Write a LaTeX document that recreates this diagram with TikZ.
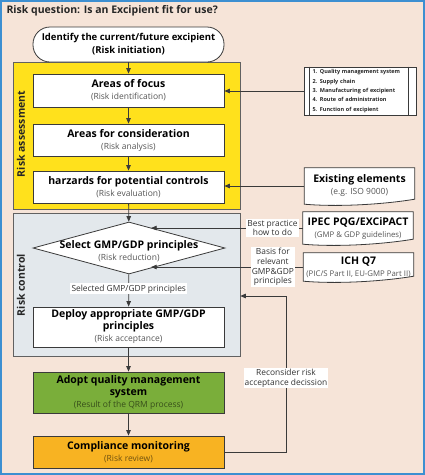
\documentclass[tikz,border=0pt]{standalone}
\usepackage{fontspec}
\setmainfont{Open Sans}
\usetikzlibrary{shapes.geometric,arrows.meta,positioning,calc}

\definecolor{paper}{HTML}{F6E4D8}
\definecolor{frame}{HTML}{3D8FD1}
\definecolor{assessyellow}{HTML}{FFE11C}
\definecolor{controlgray}{HTML}{E3E8EC}
\definecolor{adoptgreen}{HTML}{7AAE3A}
\definecolor{monitororange}{HTML}{F8B322}
\definecolor{linec}{HTML}{3A3A3A}
\definecolor{subgray}{HTML}{555555}

\newcommand{\titlefont}{\fontsize{10.5}{12}\selectfont\bfseries}
\newcommand{\headfont}{\fontsize{10.5}{13}\selectfont\bfseries}
\newcommand{\subfont}{\fontsize{8.5}{12}\selectfont}
\newcommand{\docsubfont}{\fontsize{7.8}{11}\selectfont}
\newcommand{\labfont}{\fontsize{8.4}{9.6}\selectfont}
\newcommand{\listfont}{\fontsize{5.5}{9.4}\selectfont\bfseries}
\newcommand{\sidefont}{\fontsize{10.5}{12}\selectfont\bfseries}

\pgfdeclarelayer{paperlayer}
\pgfdeclarelayer{behind}
\pgfsetlayers{paperlayer,behind,main}

% wavy bottom of a document symbol, drawn under the text
\newcommand{\docwave}[1]{%
  \begin{pgfonlayer}{behind}
    \draw[line, fill=white] (#1.north west) -- (#1.north east) -- ([yshift=5]#1.south east)
      .. controls +(-30,-5) and +(35,-3) .. (#1.south west) -- cycle;
  \end{pgfonlayer}}

\begin{document}
\begin{tikzpicture}[x=1pt, y=1pt,
    line/.style={draw=linec, line width=0.8pt},
    arr/.style={line, -{Triangle[length=5.5pt, width=4.5pt]}},
    stepbox/.style={line, fill=white, minimum width=191, align=center, inner sep=1pt, font=\subfont},
    doc/.style={minimum width=110, align=center, inner sep=1pt, font=\subfont},
    lab/.style={fill=white, inner sep=1.2pt, align=center, font=\labfont, text=black!80},
    side/.style={rotate=90, font=\sidefont, text=black!85}]

  % paper and frame
  \begin{pgfonlayer}{paperlayer}
    \fill[paper] (0,0) rectangle (425,-475);
    \draw[frame, line width=2] (1,-1) rectangle (424,-474);
  \end{pgfonlayer}
  \useasboundingbox (0,0) rectangle (425,-475);

  \node[anchor=west, font=\titlefont, text=black!85] (question) at (3,-11) {Risk question: Is an Excipient fit for use?};

  % the two phases
  \node[draw=linec!80, line width=0.6pt, fill=assessyellow, minimum width=227, minimum height=147] (assess) at (126.5,-135.5) {};
  \node[draw=linec!80, line width=0.6pt, fill=controlgray, minimum width=227, minimum height=143] (control) at (126.5,-284.5) {};
  \node[side] (assesslab) at (21,-134) {Risk assessment};
  \node[side] (controllab) at (21,-285) {Risk control};

  % main flow
  \node[stepbox, rounded corners=17, minimum height=35, font=\fontsize{9.5}{13}\selectfont\bfseries] (init) at (128.5,-44.5)
    {Identify the current/future excipient\\(Risk initiation)};
  \node[stepbox, minimum height=33] (focus) at (128.5,-90.5)
    {{\headfont Areas of focus}\\{\color{subgray}(Risk identification)}};
  \node[stepbox, minimum height=32] (consid) at (128.5,-140)
    {{\headfont Areas for consideration}\\{\color{subgray}(Risk analysis)}};
  \node[stepbox, minimum height=32] (hazard) at (128.5,-187)
    {{\headfont harzards for potential controls}\\{\color{subgray}(Risk evaluation)}};
  \node[diamond, line, fill=white, minimum width=192, minimum height=52, inner sep=0] (select) at (129,-248) {};
  \node[align=center, font=\subfont, inner sep=0] (selecttext) at (129,-251)
    {{\headfont Select GMP/GDP principles}\\{\color{subgray}(Risk reduction)}};
  \node[stepbox, minimum height=40] (deploy) at (128.5,-327)
    {{\headfont Deploy appropriate GMP/GDP}\\{\headfont principles}\\{\color{subgray}(Risk acceptance)}};
  \node[stepbox, fill=adoptgreen, minimum height=41] (adopt) at (128.5,-392.5)
    {{\headfont Adopt quality management}\\{\headfont system}\\{\color{black!55!adoptgreen}(Result of the QRM process)}};
  \node[stepbox, fill=monitororange, minimum height=32] (comply) at (128.5,-452)
    {{\headfont Compliance monitoring}\\{\color{black!55!monitororange}(Risk review)}};

  % inputs on the right
  \node[line, fill=white, minimum width=112, minimum height=48, text width=95, inner sep=2pt,
        align=left, font=\listfont, text=black!85] (aspects) at (360,-91)
    {1. Quality management system\\2. Supply chain\\3. Manufacturing of excipient\\4. Route of administration\\5. Function of excipient};
  \draw[line, line width=0.6pt] ([xshift=6]aspects.north west) -- ([xshift=6]aspects.south west);
  \draw[line, line width=0.6pt] ([xshift=-8]aspects.north east) -- ([xshift=-8]aspects.south east);

  \node[doc, minimum height=36] (existing) at (359.5,-186)
    {{\headfont Existing elements}\\{\color{subgray}(e.g. ISO 9000)}};
  \docwave{existing}
  \node[doc, minimum height=32] (ipec) at (358,-228)
    {{\headfont IPEC PQG/EXCiPACT}\\{\docsubfont\color{subgray}(GMP \& GDP guidelines)}};
  \docwave{ipec}
  \node[doc, minimum height=28] (ich) at (358.5,-267)
    {{\headfont ICH Q7}\\{\docsubfont\color{subgray}(PIC/S Part II, EU-GMP Part II)}};
  \docwave{ich}

  \coordinate (selup) at ($(select.north)!0.23!(select.east)$);
  \coordinate (seldown) at ($(select.south)!0.23!(select.east)$);
  \coordinate (back) at (286,-296);

  % connectors
  \draw[arr] (init) -- (focus);
  \draw[arr] (focus) -- (consid);
  \draw[arr] (consid) -- (hazard);
  \draw[arr] (hazard) -- (select);
  \draw[arr] (select) -- node[lab, pos=0.45] {Selected GMP/GDP principles} (deploy);
  \draw[arr] (deploy) -- (adopt);
  \draw[arr] (adopt) -- (comply);

  \draw[arr] (aspects.west) -- (aspects.west -| focus.east);
  \draw[arr] (existing.west) -- (existing.west -| hazard.east);
  \draw[arr] (ipec.west) -- node[lab, pos=0.2] {Best practice\\how to do} (ipec.west -| selup);
  \draw[arr] (ich.west) -- node[lab, pos=0.2] {Basis for\\relevant\\GMP\&GDP\\principles} (ich.west -| seldown);
  \draw[arr] (comply.east) -| node[lab, pos=0.737] {Reconsider risk\\acceptance decission} (back) -- (back -| control.east);

\end{tikzpicture}
\end{document}
